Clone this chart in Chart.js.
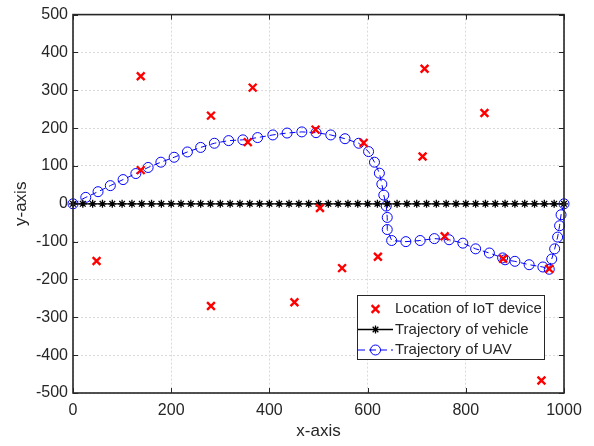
<!DOCTYPE html>
<html>
<head>
<meta charset="utf-8">
<title>IoT devices, vehicle and UAV trajectories</title>
<script src="https://cdn.jsdelivr.net/npm/chart.js@4.4.0/dist/chart.umd.min.js"></script>
<style>
  body { margin: 0; background: #fff; }
  #wrap { width: 594px; height: 446px; }
</style>
</head>
<body>
<div id="wrap"><canvas id="myChart" width="594" height="446"></canvas></div>
<script>
// locations of the IoT devices
const deviceX = [48, 138, 138, 281, 281, 356, 366, 451, 494, 503, 548, 592, 621, 712, 716, 757, 838, 876, 954, 970];
const deviceY = [-151, 337, 89, 233, -270, 163, 307, -260, 196, -11, -170, 161, -140, 125, 357, -86, 240, -145, -467, -172];

// the vehicle drives straight along the x-axis
const vehicleX = [0, 20, 40, 60, 80, 100, 120, 140, 160, 180, 200, 220, 240, 260, 280, 300, 320, 340, 360, 380,
  400, 420, 440, 460, 480, 500, 520, 540, 560, 580, 600, 620, 640, 660, 680, 700, 720, 740, 760, 780,
  800, 820, 840, 860, 880, 900, 920, 940, 960, 980, 1000];
const vehicleY = [0, 0, 0, 0, 0, 0, 0, 0, 0, 0, 0, 0, 0, 0, 0, 0, 0, 0, 0, 0,
  0, 0, 0, 0, 0, 0, 0, 0, 0, 0, 0, 0, 0, 0, 0, 0, 0, 0, 0, 0,
  0, 0, 0, 0, 0, 0, 0, 0, 0, 0, 0];

// UAV path
const uavX = [0, 26, 51, 76, 102, 128, 153, 179, 206, 233, 260, 288, 317, 346, 376, 407, 436, 466, 495, 525,
  554, 582, 602, 614, 624, 629, 633, 638, 640, 640, 649, 678, 707, 736, 766, 794, 820, 848, 875, 880,
  900, 929, 957, 970, 975, 981, 987, 991, 994, 1000];
const uavY = [0, 17, 32, 48, 64, 80, 96, 110, 123, 137, 149, 160, 167, 169, 175, 182, 187, 190, 188, 182,
  172, 160, 138, 110, 81, 52, 23, -6, -36, -68, -97, -100, -97, -92, -95, -104, -119, -130, -143, -148,
  -152, -161, -167, -173, -146, -119, -88, -58, -29, 0];

const xTicks = [0, 200, 400, 600, 800, 1000];
const yTicks = [-500, -400, -300, -200, -100, 0, 100, 200, 300, 400, 500];
const legendLabels = ["Location of IoT device", "Trajectory of vehicle", "Trajectory of UAV"];

const axisColor = "#262626";
const fontFamily = "'Liberation Sans', Arial, Helvetica, sans-serif";

function toPoints(xs, ys) {
  return xs.map(function (x, i) { return { x: x, y: ys[i] }; });
}

// box round the plot with ticks pointing inwards on all four sides
const boxPlugin = {
  id: "box",
  afterDatasetsDraw(chart) {
    const ctx = chart.ctx;
    const a = chart.chartArea;
    const sx = chart.scales.x, sy = chart.scales.y;
    ctx.save();
    ctx.strokeStyle = axisColor;
    ctx.lineWidth = 1;
    ctx.beginPath();
    xTicks.forEach(function (v) {
      const px = Math.round(sx.getPixelForValue(v)) + 0.5;
      ctx.moveTo(px, a.bottom); ctx.lineTo(px, a.bottom - 5);
      ctx.moveTo(px, a.top); ctx.lineTo(px, a.top + 5);
    });
    yTicks.forEach(function (v) {
      const py = Math.round(sy.getPixelForValue(v)) + 0.5;
      ctx.moveTo(a.left, py); ctx.lineTo(a.left + 5, py);
      ctx.moveTo(a.right, py); ctx.lineTo(a.right - 5, py);
    });
    ctx.stroke();
    ctx.lineWidth = 1.6;
    ctx.strokeRect(a.left, a.top, a.right - a.left, a.bottom - a.top);
    ctx.restore();
  }
};

function drawCross(ctx, x, y, r) {
  const d = r * Math.SQRT1_2;
  ctx.moveTo(x - d, y - d); ctx.lineTo(x + d, y + d);
  ctx.moveTo(x - d, y + d); ctx.lineTo(x + d, y - d);
}

// legend box in the lower right of the plot
const legendPlugin = {
  id: "boxLegend",
  afterDraw(chart) {
    const ctx = chart.ctx;
    const left = 357, top = 295, w = 187, h = 64;
    const rows = [309, 329.5, 350];
    const mx = 375.5, x0 = 358, x1 = 393;
    ctx.save();
    ctx.fillStyle = "#fff";
    ctx.fillRect(left, top, w, h);
    ctx.strokeStyle = axisColor;
    ctx.lineWidth = 1;
    ctx.strokeRect(left + 0.5, top + 0.5, w, h);

    // IoT device marker
    ctx.strokeStyle = "#ff0000";
    ctx.lineWidth = 2.4;
    ctx.beginPath();
    drawCross(ctx, mx, rows[0], 5.5);
    ctx.stroke();

    // vehicle line and asterisk
    ctx.strokeStyle = "#000";
    ctx.lineWidth = 1.3;
    ctx.beginPath();
    ctx.moveTo(x0, rows[1]); ctx.lineTo(x1, rows[1]);
    ctx.moveTo(mx, rows[1] - 4); ctx.lineTo(mx, rows[1] + 4);
    drawCross(ctx, mx, rows[1], 4);
    ctx.stroke();

    // UAV dashed line and circle
    ctx.strokeStyle = "#0000ff";
    ctx.lineWidth = 1;
    ctx.setLineDash([7, 4]);
    ctx.beginPath();
    ctx.moveTo(x0, rows[2]); ctx.lineTo(x1, rows[2]);
    ctx.stroke();
    ctx.setLineDash([]);
    ctx.beginPath();
    ctx.arc(mx, rows[2], 5, 0, Math.PI * 2);
    ctx.stroke();

    ctx.fillStyle = axisColor;
    ctx.font = "15px " + fontFamily;
    ctx.textBaseline = "middle";
    ctx.textAlign = "left";
    legendLabels.forEach(function (t, i) { ctx.fillText(t, 395, rows[i]); });
    ctx.restore();
  }
};

const myChart = document.getElementById("myChart").getContext("2d");
new Chart(myChart, {
  type: "scatter",
  data: {
    datasets: [
      {
        label: legendLabels[0],
        data: toPoints(deviceX, deviceY),
        pointStyle: "crossRot",
        pointRadius: 5.5,
        pointBorderWidth: 2.4,
        borderColor: "#ff0000",
        backgroundColor: "#ff0000",
        showLine: false,
        clip: false
      },
      {
        label: legendLabels[1],
        data: toPoints(vehicleX, vehicleY),
        pointStyle: "star",
        pointRadius: 4,
        pointBorderWidth: 1.3,
        borderColor: "#000",
        backgroundColor: "#000",
        borderWidth: 1.2,
        showLine: true,
        clip: false
      },
      {
        label: legendLabels[2],
        data: toPoints(uavX, uavY),
        pointStyle: "circle",
        pointRadius: 5,
        pointBorderWidth: 1,
        borderColor: "#0000ff",
        backgroundColor: "rgba(0,0,0,0)",
        borderWidth: 1,
        borderDash: [6, 4],
        showLine: true,
        clip: false
      }
    ]
  },
  options: {
    responsive: false,
    animation: false,
    devicePixelRatio: 1,
    layout: { padding: { left: 0, top: 13, right: 30, bottom: 0 } },
    plugins: {
      legend: { display: false },
      tooltip: { enabled: false }
    },
    scales: {
      x: {
        type: "linear",
        min: 0,
        max: 1000,
        afterBuildTicks: function (s) { s.ticks = xTicks.map(function (v) { return { value: v }; }); },
        afterFit: function (s) { s.height = 53; },
        ticks: {
          padding: 8, color: axisColor, font: { family: fontFamily, size: 16 }, maxRotation: 0,
          callback: function (v) { return String(v); }
        },
        grid: { color: "#dadada", drawTicks: false },
        border: { display: false, dash: [2, 2] },
        title: { display: true, text: "x-axis", color: axisColor, font: { family: fontFamily, size: 17 }, padding: { top: 0, bottom: 4 } }
      },
      y: {
        type: "linear",
        min: -500,
        max: 500,
        afterBuildTicks: function (s) { s.ticks = yTicks.map(function (v) { return { value: v }; }); },
        afterFit: function (s) { s.width = 73; },
        ticks: {
          padding: 5, color: axisColor, font: { family: fontFamily, size: 16 },
          callback: function (v) { return String(v); }
        },
        grid: { color: "#dadada", drawTicks: false },
        border: { display: false, dash: [2, 2] },
        title: { display: true, text: "y-axis", color: axisColor, font: { family: fontFamily, size: 17 }, padding: { top: 11, bottom: 0 } }
      }
    }
  },
  plugins: [boxPlugin, legendPlugin]
});
</script>
</body>
</html>
